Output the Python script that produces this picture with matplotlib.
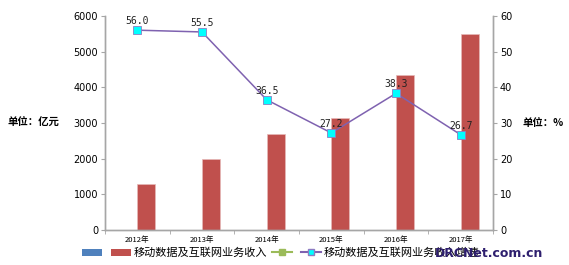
import matplotlib
matplotlib.use("Agg")
import matplotlib.pyplot as plt
from matplotlib.patches import Patch
from matplotlib.lines import Line2D
import numpy as np

plt.rcParams['font.family'] = ['DejaVu Sans', 'Noto Sans CJK SC']

years = ["2012年", "2013年", "2014年", "2015年", "2016年", "2017年"]
revenue = [1280, 1980, 2700, 3130, 4330, 5480]
empty_series = [0, 0, 0, 0, 0, 0]
growth = [56.0, 55.5, 36.5, 27.2, 38.3, 26.7]

series_name = "移动数据及互联网业务收入"
growth_name = "移动数据及互联网业务收入增速"

RED = "#C0504D"
BLUE = "#4F81BD"
GREEN = "#9BBB59"
PURPLE = "#7F62B0"
GRAY = "#A6A6A6"
CJK = ['Noto Sans CJK SC', 'DejaVu Sans']

fig = plt.figure(figsize=(5.69, 2.65), dpi=100)
ax = fig.add_axes([0.1845, 0.132, 0.682, 0.808])
ax2 = ax.twinx()

x = np.arange(len(years))
bw = 0.28
ax.bar(x - 0.14, empty_series, bw, color=BLUE)
ax.bar(x + 0.14, revenue, bw, color=RED, edgecolor="#E6B9B8", linewidth=0.5)

ax.set_xlim(-0.5, len(years) - 0.5)
ax.set_ylim(0, 6000)
ax.set_yticks(range(0, 6001, 1000))
ax2.set_ylim(0, 60)
ax2.set_yticks(range(0, 61, 10))

ax2.plot(x, growth, color=PURPLE, linewidth=1.1, marker="s", markersize=5.5,
         markerfacecolor="#00FFFF", markeredgecolor="#8E7CC3", markeredgewidth=0.6)
for xi, v in zip(x, growth):
    ax2.annotate(f"{v:.1f}", (xi, v), xytext=(0, 3), textcoords="offset points",
                 ha="center", va="bottom", fontsize=7, family="DejaVu Sans Mono",
                 color="#222222")

ax.set_xticks(x)
ax.set_xticklabels(years, fontsize=5.5, family=CJK)
ax.set_xticks(np.arange(-0.5, len(years), 1), minor=True)
ax.tick_params(axis="x", which="major", length=0, pad=4)
ax.tick_params(axis="x", which="minor", length=3, color=GRAY, direction="out")
ax.tick_params(axis="y", labelsize=7, length=3, color=GRAY, pad=2)
ax2.tick_params(axis="y", labelsize=7, length=3, color=GRAY, pad=2)

for a in (ax, ax2):
    a.spines["top"].set_visible(False)
    for s in ("left", "right", "bottom"):
        a.spines[s].set_color(GRAY)
        a.spines[s].set_linewidth(1.0)

fig.text(0.014, 0.535, "单位：亿元", fontsize=7.5, fontweight="bold", family=CJK,
         ha="left", va="center")
fig.text(0.918, 0.535, "单位：%", fontsize=7.5, fontweight="bold", family=CJK,
         ha="left", va="center")

handles = [
    Patch(facecolor=BLUE),
    Patch(facecolor=RED),
    Line2D([0], [0], color=GREEN, marker="s", markersize=4),
    Line2D([0], [0], color=PURPLE, marker="s", markersize=5,
           markerfacecolor="#00FFFF", markeredgecolor="#8E7CC3"),
]
labels = ["", series_name, "", growth_name]
fig.legend(handles, labels, loc="center left", bbox_to_anchor=(0.127, 0.045), ncol=4,
           frameon=False, prop={"family": CJK, "size": 8},
           handlelength=1.8, handletextpad=0.3, columnspacing=0.45)

fig.text(0.955, 0.045, "DRCNet.com.cn", fontsize=9, fontweight="bold",
         color="#2E1F6E", ha="right", va="center", zorder=10)

fig.savefig("out.png", dpi=100)
